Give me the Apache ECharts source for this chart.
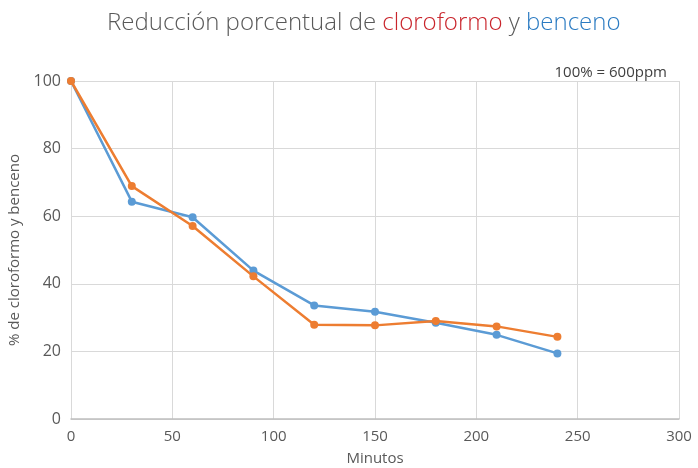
<!DOCTYPE html>
<html><head><meta charset="utf-8">
<script src="https://cdn.jsdelivr.net/npm/echarts@6/dist/echarts.min.js"></script>
<style>html,body{margin:0;padding:0;background:#fff}#c{width:698px;height:468px}</style>
</head><body><div id="c"></div>
<script>
const minutes = [0, 30, 60, 90, 120, 150, 180, 210, 240];
const benceno = [100, 64.3, 59.7, 43.9, 33.6, 31.7, 28.5, 24.9, 19.4];
const cloroformo = [100, 68.9, 57.1, 42.2, 27.9, 27.7, 29.0, 27.4, 24.3];
const xTicks = [0, 50, 100, 150, 200, 250, 300];
const yTicks = [0, 20, 40, 60, 80, 100];

const font = '"Open Sans", "Noto Sans", sans-serif';
const chart = echarts.init(document.getElementById('c'));
chart.setOption({
  animation: false,
  title: [{
    text: '{a|Reducción porcentual de }{r|cloroformo}{a| y }{b|benceno}',
    left: 102, top: 6,
    textStyle: {
      rich: {
        a: {fontSize: 24, color: '#595959', fontFamily: font, fontWeight: 300},
        r: {fontSize: 24, color: '#C9252C', fontFamily: font, fontWeight: 300},
        b: {fontSize: 24, color: '#2B7BC2', fontFamily: font, fontWeight: 300}
      }
    }
  }, {
    text: '100% = 600ppm', right: 26, top: 60,
    textStyle: {fontSize: 15, color: '#404040', fontFamily: font, fontWeight: 'normal'}
  }],
  grid: {left: 71, right: 19, top: 81, bottom: 49, containLabel: false, outerBoundsMode: 'none'},
  xAxis: {
    type: 'value', min: xTicks[0], max: xTicks[xTicks.length - 1], interval: 50,
    name: 'Minutos', nameLocation: 'middle', nameGap: 32,
    nameTextStyle: {fontSize: 15, color: '#595959', fontFamily: font},
    axisLine: {show: true, lineStyle: {color: '#BFBFBF', width: 1.5}},
    axisTick: {show: false},
    axisLabel: {fontSize: 15, color: '#595959', fontFamily: font, margin: 10},
    splitLine: {show: true, lineStyle: {color: '#D9D9D9', width: 1}}
  },
  yAxis: {
    type: 'value', min: yTicks[0], max: yTicks[yTicks.length - 1], interval: 20,
    name: '% de cloroformo y benceno', nameLocation: 'middle', nameGap: 47,
    nameTextStyle: {fontSize: 15, color: '#595959', fontFamily: font},
    axisLine: {show: true, lineStyle: {color: '#D9D9D9', width: 1}},
    axisTick: {show: false},
    axisLabel: {fontSize: 16, color: '#595959', fontFamily: font, margin: 10},
    splitLine: {show: true, lineStyle: {color: '#D9D9D9', width: 1}}
  },
  series: [{
    name: 'benceno', type: 'line',
    data: minutes.map((m, i) => [m, benceno[i]]),
    symbol: 'circle', symbolSize: 8,
    lineStyle: {color: '#5B9BD5', width: 2.5},
    itemStyle: {color: '#5B9BD5'}, z: 2
  }, {
    name: 'cloroformo', type: 'line',
    data: minutes.map((m, i) => [m, cloroformo[i]]),
    symbol: 'circle', symbolSize: 8,
    lineStyle: {color: '#ED7D31', width: 2.5},
    itemStyle: {color: '#ED7D31'}, z: 3
  }]
});
</script></body></html>
